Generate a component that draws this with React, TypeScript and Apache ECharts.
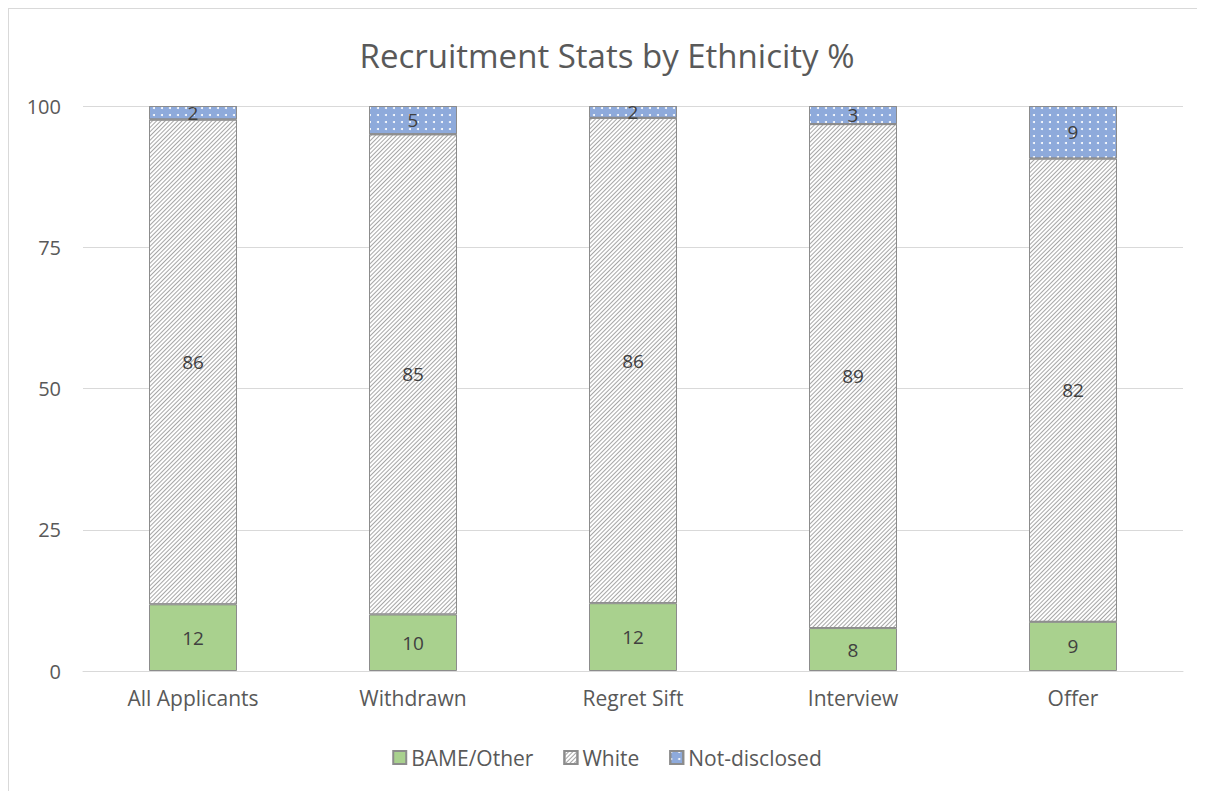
import React, { useEffect, useRef } from "react";
import * as echarts from "echarts";

const categories = ["All Applicants", "Withdrawn", "Regret Sift", "Interview", "Offer"];
const bameValues = [11.8, 10.0, 12.0, 7.6, 8.7];
const whiteValues = [85.8, 85.0, 85.9, 89.2, 82.0];
const notDisclosedValues = [2.4, 5.0, 2.1, 3.2, 9.3];
const yTicks = [0, 25, 50, 75, 100];

const FONT = "Open Sans";
const TXT = "#595959";

export default function App() {
  const ref = useRef<HTMLDivElement>(null);
  useEffect(() => {
    if (!ref.current) return;
    const chart = echarts.init(ref.current, undefined, { renderer: "svg" });
    const label = {
      show: true,
      position: "inside",
      color: "#404040",
      fontSize: 19,
      fontFamily: FONT,
      formatter: (p: any) => String(Math.round(p.value)),
    };
    chart.setOption({
      animation: false,
      backgroundColor: "#ffffff",
      title: {
        text: "Recruitment Stats by Ethnicity %",
        left: "center",
        top: 25,
        textStyle: { color: TXT, fontSize: 33, fontWeight: "normal", fontFamily: FONT },
      },
      legend: {
        top: 733,
        left: "center",
        itemWidth: 13,
        itemHeight: 13,
        itemGap: 30,
        icon: "rect",
        textStyle: { color: TXT, fontSize: 21, fontFamily: FONT },
        data: ["BAME/Other", "White", "Not-disclosed"],
      },
      grid: { left: 74, right: 22, top: 97, bottom: 120 },
      xAxis: {
        type: "category",
        data: categories,
        axisLine: { lineStyle: { color: "#d9d9d9" } },
        axisTick: { show: false },
        axisLabel: { color: TXT, fontSize: 21, fontFamily: FONT, margin: 16 },
      },
      yAxis: {
        type: "value",
        min: yTicks[0],
        max: yTicks[yTicks.length - 1],
        interval: 25,
        axisLine: { show: false },
        axisTick: { show: false },
        splitLine: { lineStyle: { color: "#d9d9d9" } },
        axisLabel: { color: TXT, fontSize: 20, fontFamily: FONT, margin: 22 },
      },
      series: [
        {
          name: "BAME/Other",
          type: "bar",
          stack: "s",
          barWidth: "40%",
          data: bameValues,
          itemStyle: { color: "#a9d18e", borderColor: "#8c8c8c", borderWidth: 1 },
          label,
        },
        {
          name: "White",
          type: "bar",
          stack: "s",
          data: whiteValues,
          itemStyle: {
            color: "#ffffff",
            borderColor: "#8c8c8c",
            borderWidth: 1,
            decal: {
              symbol: "rect",
              color: "#a6a6a6",
              dashArrayX: [1, 0],
              dashArrayY: [1, 2],
              rotation: -Math.PI / 4,
            },
          },
          label,
        },
        {
          name: "Not-disclosed",
          type: "bar",
          stack: "s",
          data: notDisclosedValues,
          itemStyle: {
            color: "#8eaadb",
            borderColor: "#8c8c8c",
            borderWidth: 1,
            decal: {
              symbol: "circle",
              symbolSize: 1,
              color: "#ffffff",
              dashArrayX: [[2, 6]],
              dashArrayY: [2, 5],
            },
          },
          label,
        },
      ],
    });
    return () => chart.dispose();
  }, []);
  return (
    <div style={{ borderTop: "1px solid #d9d9d9", borderLeft: "1px solid #d9d9d9", width: 1196, height: 782 }}>
      <div ref={ref} style={{ width: 1196, height: 782 }} />
    </div>
  );
}
